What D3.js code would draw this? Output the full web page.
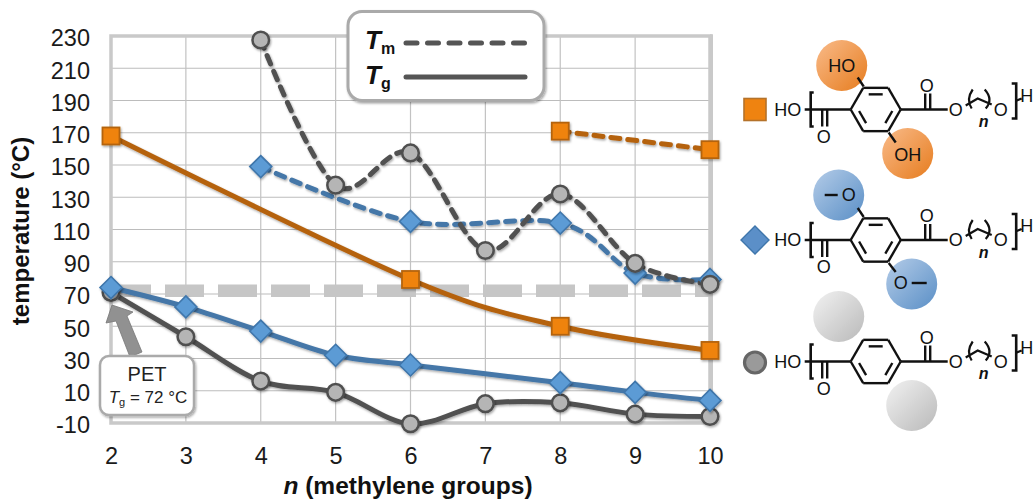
<!DOCTYPE html>
<html><head><meta charset="utf-8">
<script src="https://cdn.jsdelivr.net/npm/d3@7"></script>
<style>html,body{margin:0;padding:0;background:#fff}svg{display:block}text{font-family:"Liberation Sans",Arial,sans-serif}</style>
</head><body><svg id="c" width="1034" height="500"></svg>
<script>
const nValues=[2,3,4,5,6,7,8,9,10];
const yTicks=[-10,10,30,50,70,90,110,130,150,170,190,210,230];
const petTg=72;
const orangeTg=[[2,168],[6,79],[8,50],[10,35]];
const orangeTm=[[8,171],[10,159.5]];
const blueTg=[[2,74],[3,62],[4,47],[5,32],[6,26],[8,15],[9,9],[10,4]];
const blueTm=[[4,149],[6,115],[8,114],[9,83],[10,79]];
const greyTg=[[2,71],[3,43.5],[4,16],[5,9],[6,-10.5],[7,2],[8,2.5],[9,-4.5],[10,-6]];
const greyTm=[[4,227.5],[5,137.5],[6,157.5],[7,97],[8,132],[9,89],[10,76]];

const svg=d3.select("#c");
const x=d3.scaleLinear().domain([2,10]).range([111,710]);
const y=d3.scaleLinear().domain([-10,230]).range([423,36]);
const line=d3.line().x(d=>x(d[0])).y(d=>y(d[1])).curve(d3.curveCardinal.tension(0));
const defs=svg.append("defs");
const sh=defs.append("filter").attr("id","sh").attr("x","-20%").attr("y","-20%").attr("width","150%").attr("height","150%");
sh.append("feDropShadow").attr("dx",1).attr("dy",1.5).attr("stdDeviation",1.2).attr("flood-color","#000").attr("flood-opacity",.35);
[["go","#f9bb8a","#e67c1e"],["gb","#b4cce8","#5a8fc6"],["gg","#f2f2f2","#b9b9b9"]].forEach(g=>{
  const l=defs.append("linearGradient").attr("id",g[0]).attr("x1",0).attr("y1",0).attr("x2",1).attr("y2",1);
  l.append("stop").attr("offset","0").attr("stop-color",g[1]);
  l.append("stop").attr("offset","1").attr("stop-color",g[2]);
});

// grid
svg.append("g").selectAll("line").data(yTicks.filter(t=>t>-10&&t<230)).join("line")
  .attr("x1",x(2)).attr("x2",x(10)).attr("y1",d=>y(d)).attr("y2",d=>y(d)).attr("stroke","#bcbcbc").attr("stroke-width",1.2);
svg.append("g").selectAll("line").data(nValues.slice(1,-1)).join("line")
  .attr("x1",d=>x(d)).attr("x2",d=>x(d)).attr("y1",y(230)).attr("y2",y(-10)).attr("stroke","#c2c2c2").attr("stroke-width",1.2);
// frame
svg.append("rect").attr("x",x(2)).attr("y",y(230)).attr("width",x(10)-x(2)).attr("height",y(-10)-y(230))
  .attr("fill","none").attr("stroke","#c9c9c9").attr("stroke-width",3.5);
svg.append("line").attr("x1",x(10)+1.5).attr("x2",x(10)+1.5).attr("y1",y(230)-1.7).attr("y2",y(-10)+1.7).attr("stroke","#c9c9c9").attr("stroke-width",3);
// PET band
svg.append("line").attr("x1",x(2)+1).attr("x2",x(10)).attr("y1",y(petTg)).attr("y2",y(petTg))
  .attr("stroke","#c6c6c6").attr("stroke-width",12.5).attr("stroke-dasharray","39 14");

// axes
const ax=svg.append("g").attr("transform",`translate(0,${y(-10)+33})`).call(d3.axisBottom(x).tickValues(nValues).tickFormat(d3.format("d")).tickSize(0));
ax.select(".domain").remove();
ax.selectAll("text").attr("y",0).attr("dy",".36em").attr("font-size",23.5).attr("font-family","Liberation Sans").attr("fill","#1a1a1a");
const ay=svg.append("g").attr("transform","translate(90,0)").call(d3.axisLeft(y).tickValues(yTicks).tickSize(0).tickPadding(0).tickFormat(d=>String(d)));
ay.select(".domain").remove();
ay.selectAll("text").attr("dy","0.42em").attr("font-size",23.5).attr("font-family","Liberation Sans").attr("fill","#1a1a1a");
svg.append("text").attr("transform","translate(29,231) rotate(-90)").attr("text-anchor","middle")
  .attr("font-size",24).attr("font-weight","bold").attr("fill","#111").text("temperature (°C)");
const xt=svg.append("text").attr("x",408).attr("y",494).attr("text-anchor","middle").attr("font-size",24.5).attr("font-weight","bold").attr("fill","#111");
xt.append("tspan").attr("font-style","italic").text("n");
xt.append("tspan").text(" (methylene groups)");

// series
const dash="9 8";
function path(data,color,dashed,w){
  svg.append("path").datum(data).attr("d",line).attr("fill","none").attr("stroke",color).attr("stroke-width",w)
    .attr("stroke-dasharray",dashed?dash:null).attr("stroke-linecap",dashed?"round":"butt").attr("filter","url(#sh)");
}
function markers(data,kind){
  const g=svg.append("g").selectAll("g").data(data).join("g").attr("transform",d=>`translate(${x(d[0])},${y(d[1])})`).attr("filter","url(#sh)");
  drawMark(g,kind);
}
function drawMark(g,kind){
  if(kind==="sq") g.append("rect").attr("x",-8.5).attr("y",-8.5).attr("width",17).attr("height",17).attr("fill","#ef8310").attr("stroke","#b4640f").attr("stroke-width",1.8);
  if(kind==="di") g.append("path").attr("d","M0,-11L11,0L0,11L-11,0Z").attr("fill","#5b9bd5").attr("stroke","#3f76ab").attr("stroke-width",1.6);
  if(kind==="ci") g.append("circle").attr("r",8.3).attr("fill","#b5b5b5").attr("stroke","#4f4f4f").attr("stroke-width",2.5);
}
path(greyTg,"#515151",false,5);
path(blueTg,"#4577a8",false,5);
path(orangeTg,"#b5620f",false,5);
path(blueTm,"#4577a8",true,5);
path(orangeTm,"#b5620f",true,5);
path(greyTm,"#515151",true,5);
markers(greyTg,"ci");markers(blueTg,"di");markers(orangeTg,"sq");
markers(blueTm,"di");markers(orangeTm,"sq");markers(greyTm,"ci");

// legend box
svg.append("rect").attr("x",348).attr("y",11.5).attr("width",196).attr("height",89).attr("rx",14)
  .attr("fill","#fff").attr("stroke","#aaa").attr("stroke-width",3).attr("filter","url(#sh)");
[["m",49,43,true],["g",84,77,false]].forEach(r=>{
  const t=svg.append("text").attr("x",365).attr("y",r[1]).attr("font-weight","bold").attr("fill","#111");
  t.append("tspan").attr("font-size",26).attr("font-style","italic").text("T");
  t.append("tspan").attr("font-size",16).attr("dy",5).text(r[0]);
  svg.append("line").attr("x1",406).attr("x2",525).attr("y1",r[2]).attr("y2",r[2]).attr("stroke","#555").attr("stroke-width",5)
    .attr("stroke-linecap","round").attr("stroke-dasharray",r[3]?"11 10.5":null);
});

// PET callout
svg.append("path").attr("d","M142,352 L130,357 L116,321 L106,323 L112,305 L133,312 L127,316 Z")
  .attr("fill","#919191").attr("stroke","#777").attr("stroke-width",.8);
svg.append("rect").attr("x",100).attr("y",356).attr("width",94).attr("height",59).attr("rx",9)
  .attr("fill","#fff").attr("stroke","#aaa").attr("stroke-width",2.5).attr("filter","url(#sh)");
svg.append("text").attr("x",147).attr("y",381).attr("text-anchor","middle").attr("font-size",20).attr("fill","#222").text("PET");
const pt=svg.append("text").attr("x",148).attr("y",403).attr("text-anchor","middle").attr("font-size",17).attr("fill","#222");
pt.append("tspan").attr("font-style","italic").text("T");
pt.append("tspan").attr("font-size",11).attr("dy",3).text("g");
pt.append("tspan").attr("dy",-3).text(" = 72 °C");

// structures
const R=25, inner=17.5;
const hex=d3.range(6).map(a=>[Math.cos(a*Math.PI/3),Math.sin(a*Math.PI/3)]);
function struct(cy,kind,markerKind){
  const cx=875.7;
  const g=svg.append("g").attr("transform",`translate(${cx},${cy})`);
  const circ=kind==="o"?[[-34,-44],[32,44]]:[[-37,-45],[36,44]];
  const fill=kind==="o"?"go":kind==="b"?"gb":"gg";
  circ.forEach(c=>g.append("circle").attr("cx",c[0]).attr("cy",c[1]).attr("r",25.5).attr("fill",`url(#${fill})`));
  const seg=(a,b,c,d,w)=>g.append("line").attr("x1",a).attr("y1",b).attr("x2",c).attr("y2",d).attr("stroke","#111").attr("stroke-width",w||2.4);
  const txt=(s,a,b,fs)=>g.append("text").attr("x",a).attr("y",b).attr("dy",".36em").attr("text-anchor","middle").attr("font-size",fs||18).attr("fill","#111").text(s);
  hex.forEach((p,i)=>{const q=hex[(i+1)%6];seg(p[0]*R,p[1]*R,q[0]*R,q[1]*R);});
  [[0,1],[2,3],[4,5]].forEach(e=>{
    const p=hex[e[0]],q=hex[e[1]];
    const m=[(p[0]+q[0])/2,(p[1]+q[1])/2];
    const s=(v,o)=>v+(o-v)*.2;
    seg(s(p[0],m[0])*inner,s(p[1],m[1])*inner,s(q[0],m[0])*inner,s(q[1],m[1])*inner);
  });
  seg(-25,0,-71,0);seg(25,0,72,0);
  seg(-53.5,0,-53.5,17);seg(-48.5,0,-48.5,17);txt("O",-52,27);
  seg(49.5,0,49.5,-16);seg(54.5,0,54.5,-16);txt("O",51,-24);
  txt("HO",-88,0);txt("O",80,0);txt("O",125,0);txt("H",151,-14);
  g.append("path").attr("d","M-62,-17H-65V17H-62M136,-26H140.5V9H136").attr("fill","none").attr("stroke","#111").attr("stroke-width",2.6);
  seg(141,-9,146,-11);
  g.append("path").attr("d","M90,-4L102,-11L116,-5M97,-20Q90,-10 96,-1M109,-20Q118,-10 110,-1").attr("fill","none").attr("stroke","#111").attr("stroke-width",2.2);
  g.append("text").attr("x",108).attr("y",12).attr("dy",".36em").attr("text-anchor","middle").attr("font-size",16).attr("font-weight","bold").attr("font-style","italic").attr("fill","#111").text("n");
  if(kind==="o"){seg(-12,-23,-18,-32);seg(13,23,20,33);txt("HO",-34,-44);txt("OH",32,45);}
  if(kind==="b"){seg(-12,-23,-18,-32);seg(13,23,20,32);txt("O",-27,-45);seg(-51,-45,-38,-45,2.4);txt("O",25,43);seg(36,43,51,43,2.4);}
  const mk=svg.append("g").attr("transform",`translate(755,${cy+(kind==="g"?1:0)})`);
  if(markerKind==="sq") mk.append("rect").attr("x",-11).attr("y",-11).attr("width",22).attr("height",22).attr("fill","#ef8310").attr("stroke","#b4722a").attr("stroke-width",1.6);
  if(markerKind==="di") mk.append("path").attr("d","M0,-14L14,0L0,14L-14,0Z").attr("fill","#5b8fc8").attr("stroke","#3f76ab").attr("stroke-width",1.4);
  if(markerKind==="ci") mk.append("circle").attr("r",10.5).attr("fill","#9a9a9a").attr("stroke","#666").attr("stroke-width",3.2);
}
struct(109.5,"o","sq");struct(240,"b","di");struct(361.5,"g","ci");
</script></body></html>
